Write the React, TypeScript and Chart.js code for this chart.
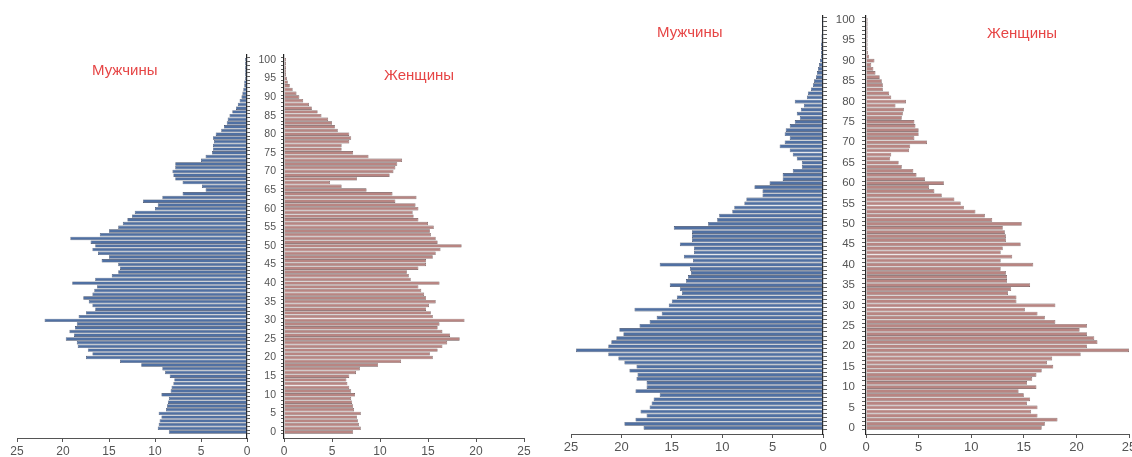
import React, { useEffect, useRef } from "react";
import { Chart, registerables } from "chart.js";

Chart.register(...registerables);
Chart.defaults.font.family = "'Liberation Sans', Arial, sans-serif";

// Age categories 0..100
const AGES: number[] = Array.from({ length: 101 }, (_, i) => i);
const X_TICKS: number[] = [0, 5, 10, 15, 20, 25];

// Left pyramid (values by age 0..100)
const leftMen: number[] = [
  8.5, 9.7, 9.6, 9.5, 9.3, 9.6, 8.8, 8.7, 8.6, 8.5,
  9.3, 8.3, 8.2, 8.0, 7.9, 8.4, 8.9, 9.2, 11.5, 13.8,
  17.5, 16.8, 17.3, 18.4, 18.5, 19.7, 18.8, 19.3, 18.7, 18.5,
  22.0, 18.3, 17.5, 16.5, 16.8, 17.2, 17.8, 16.8, 16.6, 16.3,
  19.0, 16.5, 14.7, 14.0, 13.8, 14.0, 15.8, 15.0, 16.2, 16.8,
  16.5, 17.0, 19.2, 16.0, 15.0, 14.0, 13.5, 13.0, 12.5, 12.2,
  10.0, 9.7, 11.3, 9.2, 7.0, 4.5, 4.9, 7.0, 7.8, 8.0,
  8.1, 7.8, 7.8, 5.0, 4.5, 3.8, 3.7, 3.7, 3.6, 3.7,
  3.4, 2.8, 2.5, 2.2, 2.1, 1.9, 1.6, 1.2, 1.0, 0.8,
  0.6, 0.5, 0.4, 0.3, 0.3, 0.2, 0.2, 0.2, 0.2, 0.2,
  0.2,
];
const leftWomen: number[] = [
  7.2, 8.0, 7.8, 7.7, 7.6, 8.0, 7.3, 7.2, 7.1, 7.0,
  7.4, 7.0, 6.8, 6.6, 6.5, 6.8, 7.5, 7.9, 9.8, 12.2,
  15.5, 15.2, 16.0, 16.5, 17.0, 18.3, 17.3, 16.5, 16.0, 16.2,
  18.8, 15.5, 15.3, 14.8, 15.1, 15.8, 14.8, 14.6, 14.3, 14.0,
  16.2, 13.2, 13.0, 12.8, 14.0, 14.8, 14.8, 15.5, 15.8, 16.3,
  18.5, 16.0, 15.8, 15.3, 15.2, 15.6, 15.0, 14.0, 13.5, 13.4,
  14.0, 13.7, 11.6, 13.8, 11.3, 8.6, 6.0, 4.8, 7.6, 11.0,
  11.4, 11.6, 11.8, 12.3, 8.8, 7.2, 6.0, 6.0, 6.8, 7.0,
  6.8, 5.6, 5.3, 5.0, 4.6, 3.9, 3.5, 2.9, 2.6, 2.0,
  1.6, 1.3, 0.9, 0.6, 0.4, 0.3, 0.2, 0.2, 0.2, 0.2,
  0.2,
];

// Right pyramid (values by age 0..100)
const rightMen: number[] = [
  17.8, 19.7, 18.6, 17.5, 18.1, 17.2, 17.0, 16.8, 16.2, 18.6,
  17.5, 17.5, 18.5, 18.4, 19.2, 18.5, 19.7, 20.3, 21.3, 24.5,
  21.3, 21.0, 20.5, 19.8, 20.2, 18.2, 17.2, 16.5, 16.0, 18.7,
  15.3, 15.0, 14.5, 14.0, 14.2, 15.2, 13.6, 13.4, 13.1, 13.2,
  16.2, 12.9, 13.8, 12.8, 12.8, 14.2, 13.0, 13.0, 13.0, 14.8,
  11.4, 10.5, 10.3, 9.0, 8.8, 7.8, 7.6, 6.0, 6.0, 6.8,
  5.3, 4.0, 4.0, 3.0, 2.1, 2.1, 2.6, 3.0, 3.3, 4.3,
  3.8, 3.3, 3.8, 3.7, 3.3, 2.8, 2.3, 2.6, 2.2, 1.9,
  2.8, 1.6, 1.5, 1.2, 1.0, 0.9, 0.7, 0.6, 0.5, 0.4,
  0.3, 0.2, 0.2, 0.2, 0.2, 0.15, 0.15, 0.1, 0.1, 0.1,
  0.1,
];
const rightWomen: number[] = [
  16.7, 17.0, 18.2, 16.3, 15.7, 16.3, 15.3, 15.6, 15.0, 14.5,
  16.2, 15.3, 15.8, 16.2, 16.7, 17.8, 17.2, 17.7, 20.4, 25.0,
  21.0, 22.0, 21.7, 21.0, 20.3, 21.0, 18.0, 17.0, 16.3, 15.1,
  18.0, 14.3, 14.3, 13.5, 13.8, 15.6, 13.4, 13.4, 13.3, 12.8,
  15.9, 12.8, 13.9, 12.8, 13.0, 14.7, 13.3, 13.3, 13.2, 13.0,
  14.8, 12.0, 11.3, 10.4, 9.3, 9.0, 8.4, 7.2, 6.5, 6.0,
  7.4, 5.6, 4.8, 4.5, 3.4, 3.1, 2.3, 2.4, 4.1, 4.2,
  5.8, 4.6, 5.0, 5.0, 4.7, 4.6, 3.4, 3.5, 3.6, 2.8,
  3.8, 2.4, 2.2, 1.6, 1.6, 1.5, 1.3, 0.9, 0.7, 0.5,
  0.8, 0.3, 0.2, 0.15, 0.15, 0.15, 0.15, 0.15, 0.15, 0.15,
  0.15,
];

const MEN_LABEL = "Мужчины";
const WOMEN_LABEL = "Женщины";

type PanelProps = {
  values: number[];
  men: boolean;
  left: number;
  width: number;
  padL: number;
  padR: number;
  padT: number;
  yAxisW: number;
  xAxisH: number;
  yMin: number;
  yMax: number;
  xFont: number;
  yFont: number;
  tickLen: number;
  labelPad: number;
};

const H = 457;

function Panel(p: PanelProps) {
  const ref = useRef<HTMLCanvasElement | null>(null);
  useEffect(() => {
    if (!ref.current) return;
    const fill = p.men ? "#5070a2" : "#b88582";
    const stroke = p.men ? "#3a4762" : "#6a5252";
    const chart = new Chart(ref.current, {
      type: "bar",
      data: {
        datasets: [
          {
            data: p.values.map((v, i) => ({ x: v, y: AGES[i] })),
            backgroundColor: fill,
            borderColor: stroke,
            borderWidth: 0.6,
            barPercentage: 0.92,
            categoryPercentage: 1,
          },
        ],
      },
      options: {
        indexAxis: "y",
        responsive: false,
        maintainAspectRatio: false,
        animation: false,
        layout: { padding: { left: p.padL, right: p.padR, top: p.padT, bottom: 0 } },
        plugins: { legend: { display: false }, tooltip: { enabled: false } },
        scales: {
          x: {
            type: "linear",
            min: 0,
            max: 25,
            reverse: p.men,
            position: "bottom",
            afterBuildTicks: (s: any) => {
              s.ticks = X_TICKS.map((v) => ({ value: v }));
            },
            ticks: {
              color: "#555",
              font: { size: p.xFont },
              padding: 2,
              maxRotation: 0,
              autoSkip: false,
            },
            grid: { drawOnChartArea: false, drawTicks: true, tickLength: 4, color: "#555" },
            border: { display: true, color: "#555", width: 1 },
            afterFit: (s: any) => {
              s.height = p.xAxisH;
            },
          },
          y: {
            type: "linear",
            min: p.yMin,
            max: p.yMax,
            position: p.men ? "right" : "left",
            afterBuildTicks: (s: any) => {
              s.ticks = AGES.map((a) => ({ value: a }));
            },
            ticks: {
              display: !p.men,
              autoSkip: false,
              callback: (v: any) => (Number(v) % 5 === 0 ? String(v) : ""),
              color: "#555",
              font: { size: p.yFont },
              padding: p.labelPad,
            },
            grid: { drawOnChartArea: false, drawTicks: true, tickLength: p.tickLen, color: "#333", lineWidth: 0.8 },
            border: { display: true, color: "#222", width: 1.2 },
            afterFit: (s: any) => {
              s.width = p.yAxisW;
            },
          },
        },
      } as any,
    });
    return () => chart.destroy();
  }, []);
  return (
    <canvas
      ref={ref}
      width={p.width}
      height={H}
      style={{ position: "absolute", left: p.left, top: 0, width: p.width, height: H }}
    />
  );
}

const titleStyle = (left: number, top: number): React.CSSProperties => ({
  position: "absolute",
  left,
  top,
  color: "#e64545",
  fontFamily: "'Liberation Sans', Arial, sans-serif",
  fontSize: 15,
  whiteSpace: "nowrap",
  lineHeight: "16px",
});

export default function App() {
  return (
    <div
      style={{
        position: "fixed",
        left: 0,
        top: 0,
        width: 1132,
        height: H,
        overflow: "hidden",
        background: "#fff",
      }}
    >
      <Panel values={leftMen} men left={0} width={257} padL={17} padR={0} padT={54.9} yAxisW={10} xAxisH={19}
        yMin={-1.1} yMax={100.8} xFont={12} yFont={10.5} tickLen={3} labelPad={5} />
      <Panel values={leftWomen} men={false} left={250} width={290} padL={0} padR={16} padT={54.9} yAxisW={34} xAxisH={19}
        yMin={-1.1} yMax={100.8} xFont={12} yFont={10.5} tickLen={3} labelPad={5} />
      <Panel values={rightMen} men left={560} width={273} padL={11} padR={0} padT={15.4} yAxisW={10} xAxisH={23}
        yMin={-1} yMax={100.6} xFont={13} yFont={11.5} tickLen={4} labelPad={7} />
      <Panel values={rightWomen} men={false} left={833} width={310} padL={0} padR={14} padT={15.4} yAxisW={33} xAxisH={23}
        yMin={-1} yMax={100.6} xFont={13} yFont={11.5} tickLen={4} labelPad={7} />
      <div style={titleStyle(92, 62)}>{MEN_LABEL}</div>
      <div style={titleStyle(384, 67)}>{WOMEN_LABEL}</div>
      <div style={titleStyle(657, 24)}>{MEN_LABEL}</div>
      <div style={titleStyle(987, 25)}>{WOMEN_LABEL}</div>
    </div>
  );
}
